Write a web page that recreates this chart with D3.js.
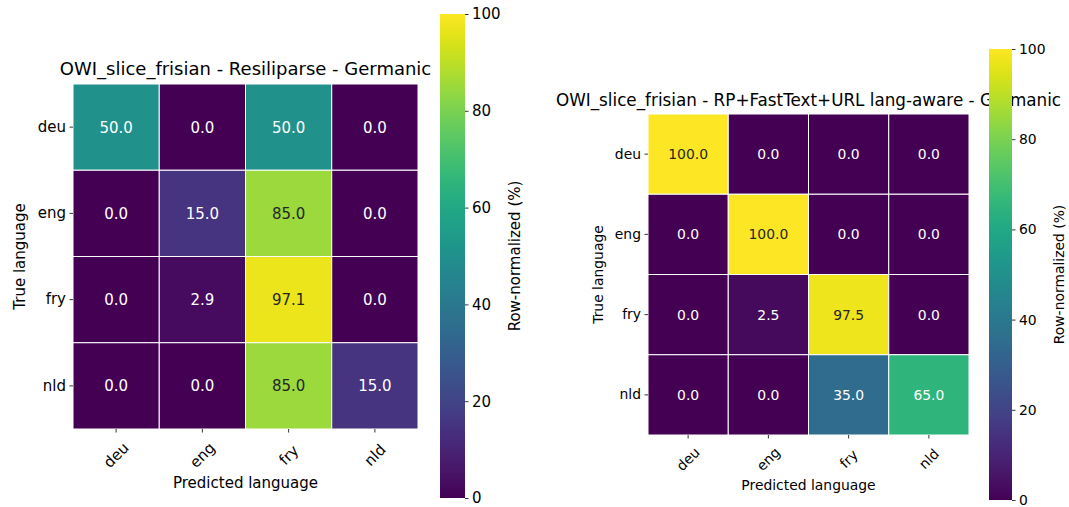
<!DOCTYPE html>
<html lang="en">
<head>
    <meta charset="utf-8">
    <title>Confusion matrices</title>
    <script src="https://d3js.org/d3.v7.min.js"></script>
    <style>
        body { margin: 0; background: #fff; }
        svg { display: block; font-family: "DejaVu Sans", sans-serif; }
    </style>
</head>
<body>
    <svg id="chart" width="1069" height="507"></svg>
    <script>
        // Data
        const languages = ["deu", "eng", "fry", "nld"];
        const leftTitle = "OWI_slice_frisian - Resiliparse - Germanic";
        const leftValues = [
            [50.0, 0.0, 50.0, 0.0],
            [0.0, 15.0, 85.0, 0.0],
            [0.0, 2.9, 97.1, 0.0],
            [0.0, 0.0, 85.0, 15.0]
        ];
        const rightTitle = "OWI_slice_frisian - RP+FastText+URL lang-aware - Germanic";
        const rightValues = [
            [100.0, 0.0, 0.0, 0.0],
            [0.0, 100.0, 0.0, 0.0],
            [0.0, 2.5, 97.5, 0.0],
            [0.0, 0.0, 35.0, 65.0]
        ];
        const colorTicks = [0, 20, 40, 60, 80, 100];

        const svg = d3.select("#chart");
        const color = d3.scaleSequential(d3.interpolateViridis).domain([0, 100]);

        // gradient for colorbars
        const grad = svg.append("defs").append("linearGradient")
            .attr("id", "viridis").attr("x1", 0).attr("x2", 0).attr("y1", 1).attr("y2", 0);
        d3.range(0, 1.0001, 0.02).forEach(t => {
            grad.append("stop").attr("offset", t).attr("stop-color", d3.interpolateViridis(t));
        });

        // same rule as seaborn: relative luminance of the cell colour
        function textColor(v) {
            const c = d3.rgb(color(v));
            const lin = u => {
                u = u / 255;
                return u <= 0.03928 ? u / 12.92 : Math.pow((u + 0.055) / 1.055, 2.4);
            };
            const lum = 0.2126 * lin(c.r) + 0.7152 * lin(c.g) + 0.0722 * lin(c.b);
            return lum > 0.408 ? "#262626" : "#ffffff";
        }

        function drawPanel(cfg) {
            const g = svg.append("g");
            const x = d3.scaleBand().domain(languages).range([cfg.x0, cfg.x1]);
            const y = d3.scaleBand().domain(languages).range([cfg.y0, cfg.y1]);
            const fs = cfg.fs;

            // title
            g.append("text")
                .attr("x", (cfg.x0 + cfg.x1) / 2)
                .attr("y", cfg.titleY)
                .attr("text-anchor", "middle")
                .attr("font-size", cfg.titleFs)
                .attr("fill", "#000")
                .text(cfg.title);

            // cells
            const cells = [];
            cfg.values.forEach((row, i) => row.forEach((v, j) => {
                cells.push({ r: languages[i], c: languages[j], v: v });
            }));

            g.selectAll("rect.cell").data(cells).join("rect")
                .attr("class", "cell")
                .attr("x", d => x(d.c))
                .attr("y", d => y(d.r))
                .attr("width", x.bandwidth())
                .attr("height", y.bandwidth())
                .attr("fill", d => color(d.v))
                .attr("stroke", "#fff")
                .attr("stroke-width", 1);

            g.selectAll("text.annot").data(cells).join("text")
                .attr("class", "annot")
                .attr("x", d => x(d.c) + x.bandwidth() / 2)
                .attr("y", d => y(d.r) + y.bandwidth() / 2)
                .attr("dy", "0.36em")
                .attr("text-anchor", "middle")
                .attr("font-size", fs)
                .attr("fill", d => textColor(d.v))
                .text(d => d.v.toFixed(1));

            // y axis
            const yAxis = g.append("g")
                .attr("transform", `translate(${cfg.x0},0)`)
                .call(d3.axisLeft(y).tickSize(3.5).tickPadding(3.5));
            yAxis.select(".domain").remove();
            yAxis.selectAll("text").attr("font-size", fs).attr("fill", "#000")
                .attr("font-family", "DejaVu Sans");
            yAxis.selectAll("line").attr("stroke", "#000").attr("stroke-width", 0.8);

            // x axis
            const xAxis = g.append("g")
                .attr("transform", `translate(0,${cfg.y1})`)
                .call(d3.axisBottom(x).tickSize(3.5));
            xAxis.select(".domain").remove();
            xAxis.selectAll("line").attr("stroke", "#000").attr("stroke-width", 0.8);
            xAxis.selectAll("text")
                .attr("font-size", fs).attr("fill", "#000")
                .attr("font-family", "DejaVu Sans")
                .attr("text-anchor", "middle")
                .attr("y", 0).attr("dy", "0.35em")
                .attr("transform", `translate(0,${cfg.xLabelOff}) rotate(-45)`);

            // axis labels
            g.append("text")
                .attr("x", (cfg.x0 + cfg.x1) / 2)
                .attr("y", cfg.xTitleY)
                .attr("text-anchor", "middle")
                .attr("font-size", fs)
                .attr("fill", "#000")
                .text("Predicted language");

            g.append("text")
                .attr("transform", `translate(${cfg.yTitleX},${(cfg.y0 + cfg.y1) / 2}) rotate(-90)`)
                .attr("text-anchor", "middle")
                .attr("font-size", fs)
                .attr("fill", "#000")
                .text("True language");

            // colorbar
            const cb = cfg.cb;
            const cy = d3.scaleLinear().domain([0, 100]).range([cb.y1, cb.y0]);
            g.append("rect")
                .attr("x", cb.x0).attr("y", cb.y0)
                .attr("width", cb.x1 - cb.x0).attr("height", cb.y1 - cb.y0)
                .attr("fill", "url(#viridis)");
            const cAxis = g.append("g")
                .attr("transform", `translate(${cb.x1},0)`)
                .call(d3.axisRight(cy).tickValues(colorTicks).tickSize(3.5).tickPadding(3.5));
            cAxis.select(".domain").remove();
            cAxis.selectAll("line").attr("stroke", "#000").attr("stroke-width", 0.8);
            cAxis.selectAll("text").attr("font-size", fs).attr("fill", "#000")
                .attr("font-family", "DejaVu Sans");

            g.append("text")
                .attr("transform", `translate(${cb.labelX},${(cb.y0 + cb.y1) / 2}) rotate(-90)`)
                .attr("text-anchor", "middle")
                .attr("font-size", fs)
                .attr("fill", "#000")
                .text("Row-normalized (%)");
        }

        drawPanel({
            title: leftTitle, values: leftValues,
            x0: 73, x1: 418, y0: 84, y1: 429,
            fs: 15, titleFs: 18, titleY: 75,
            xLabelOff: 26, xTitleY: 488, yTitleX: 25,
            cb: { x0: 440, x1: 465, y0: 14, y1: 498, labelX: 520 }
        });

        drawPanel({
            title: rightTitle, values: rightValues,
            x0: 648, x1: 969, y0: 114, y1: 435,
            fs: 13.9, titleFs: 16.8, titleY: 106,
            xLabelOff: 24, xTitleY: 490, yTitleX: 603,
            cb: { x0: 989, x1: 1012, y0: 49, y1: 500, labelX: 1064 }
        });
    </script>
</body>
</html>
